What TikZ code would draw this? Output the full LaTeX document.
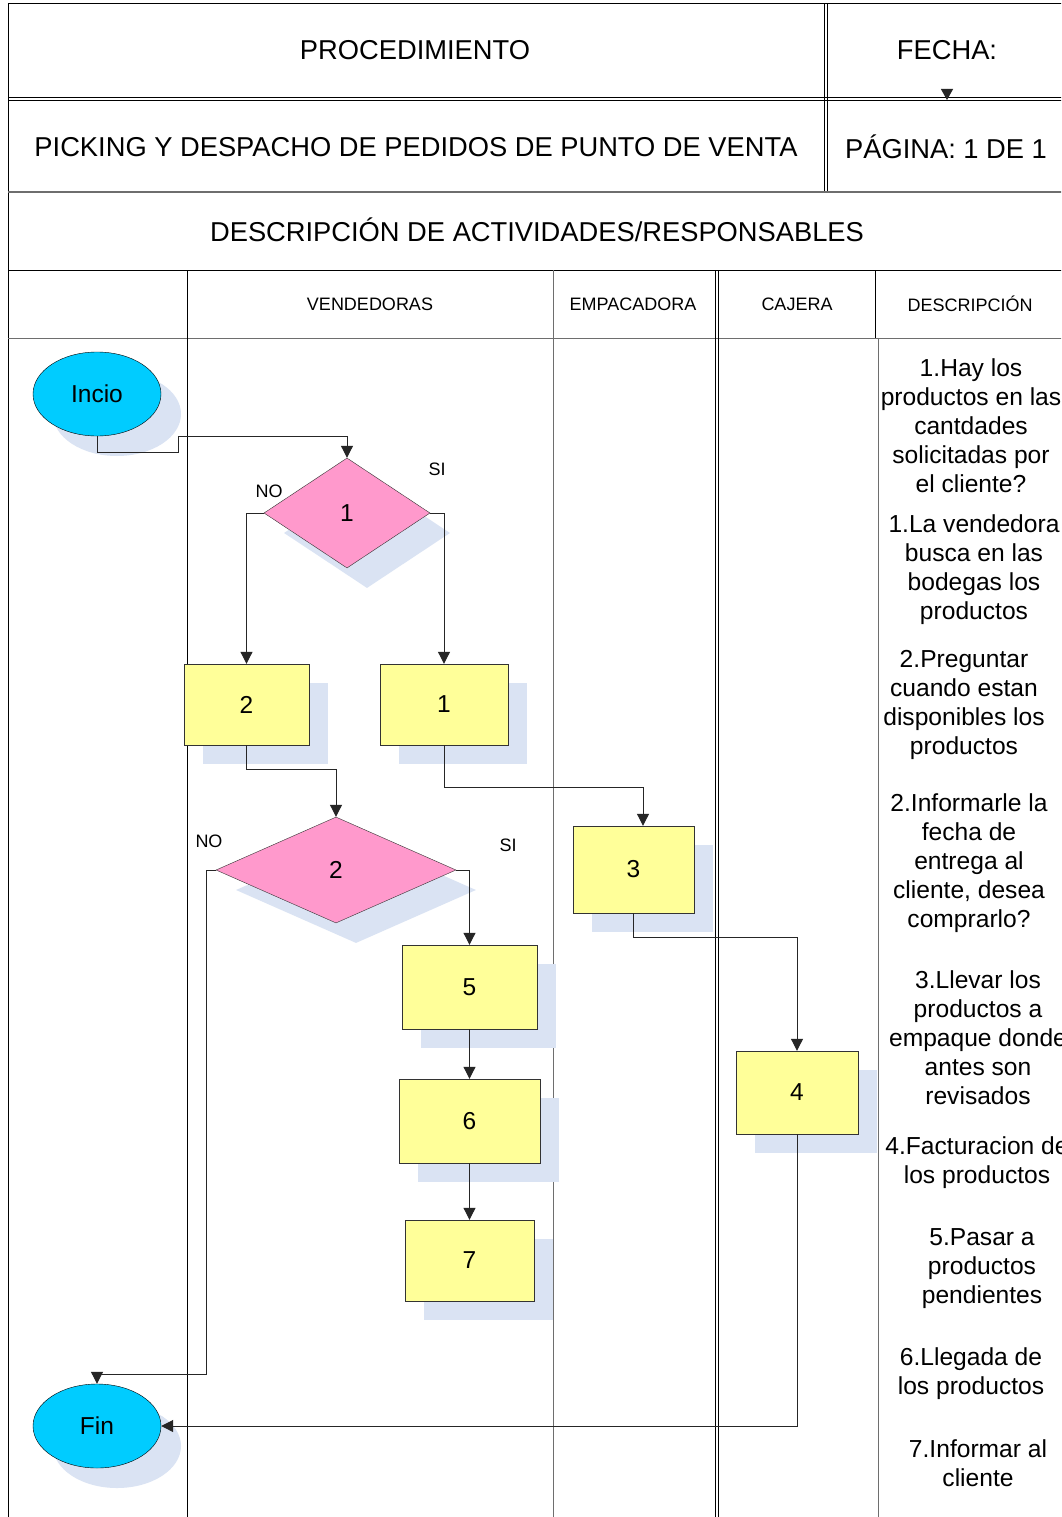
\documentclass[tikz,border=0pt]{standalone}
\usepackage{fontspec}
\setmainfont{Liberation Sans}
\usetikzlibrary{arrows.meta,shapes.geometric,shadows}
\definecolor{shadowc}{RGB}{218,227,243}
\definecolor{cyanf}{RGB}{0,204,255}
\definecolor{pinkf}{RGB}{255,153,204}
\definecolor{yellowf}{RGB}{255,255,153}
\definecolor{lanegray}{RGB}{110,110,110}
\tikzset{
  shd/.style={drop shadow={shadow xshift=20pt,shadow yshift=-20pt,fill=shadowc,opacity=1}},
  term/.style={ellipse,draw=black,fill=cyanf,minimum width=128pt,minimum height=84pt,inner sep=0pt,font=\fontsize{24.5}{28}\selectfont,shd},
  dec/.style={diamond,draw=black!80,fill=pinkf,inner sep=0pt,aspect=1.5,font=\fontsize{24.5}{28}\selectfont,shd},
  proc/.style={rectangle,draw=black!80,fill=yellowf,inner sep=0pt,font=\fontsize{24.5}{28}\selectfont,drop shadow={shadow xshift=19pt,shadow yshift=-19pt,fill=shadowc,opacity=1}},
  arr/.style={draw=black!85,line width=1pt,-{Triangle[width=12pt,length=12pt]}},
  conn/.style={draw=black!85,line width=1pt},
  hdr/.style={font=\fontsize{27.3}{30}\selectfont,inner sep=0pt},
  colh/.style={font=\fontsize{18}{21}\selectfont,inner sep=0pt},
  lbl/.style={font=\fontsize{18}{21}\selectfont,inner sep=0pt},
  desc/.style={font=\fontsize{24.6}{29}\selectfont,align=center,inner sep=0pt},
  frame/.style={draw=black,line width=1pt},
  gframe/.style={draw=lanegray,line width=1pt}
}
\begin{document}
\begin{tikzpicture}[x=1pt,y=-1pt]
\useasboundingbox (0,0) rectangle (1061,1517);
\clip (0,0) rectangle (1061,1517);
\fill[white] (0,0) rectangle (1061,1517);
% header frame
\draw[frame] (8,4) -- (1070,4);
\draw[frame] (8,4) -- (8,1520);
\draw[frame] (824,4) -- (824,192);
\draw[frame] (827,4) -- (827,192);
\draw[frame] (8,97.5) -- (1070,97.5);
\draw[frame] (8,101) -- (1070,101);
\draw[gframe,line width=2pt] (8,192) -- (1070,192);
\draw[frame] (8,270) -- (1070,270);
\draw[gframe] (8,338) -- (1070,338);
% lanes
\draw[frame] (187,270) -- (187,1520);
\draw[gframe] (553,270) -- (553,1520);
\draw[frame] (715,270) -- (715,1520);
\draw[frame] (718,270) -- (718,1520);
\draw[frame] (875,270) -- (875,338);
\draw[gframe] (878,338) -- (878,1520);
% header texts
\node[hdr] (tproc) at (415,50) {PROCEDIMIENTO};
\node[hdr] (tfecha) at (947,50) {FECHA:};
\node[hdr] (ttitle) at (416,147) {PICKING Y DESPACHO DE PEDIDOS DE PUNTO DE VENTA};
\node[hdr] (tpag) at (946,147) {PÁGINA: 1 DE 1};
\node[hdr] (tdesc) at (537,230) {DESCRIPCIÓN DE ACTIVIDADES/RESPONSABLES};
\node[colh] (hv) at (370,304) {VENDEDORAS};
\node[colh] (he) at (633,304) {EMPACADORA};
\node[colh] (hc) at (797,304) {CAJERA};
\node[colh] (hd) at (970,304) {DESCRIPCIÓN};
\coordinate (fa) at (947,89);
\coordinate (fb) at (947,100);
\draw[arr,-{Triangle[width=12pt,length=11pt]}] (fa) -- (fb);
% nodes
\node[term] (inc) at (97,394) {Incio};
\node[term] (fin) at (97,1426) {Fin};
\node[dec,minimum width=166pt,minimum height=110pt] (d1) at (347,513) {1};
\node[dec,minimum width=240pt,minimum height=106pt] (d2) at (336,870) {2};
\node[proc,minimum width=125pt,minimum height=81pt] (b2) at (246.5,704.5) {2};
\node[proc,minimum width=128pt,minimum height=81pt] (b1) at (444,704.5) {1};
\node[proc,minimum width=121pt,minimum height=87pt] (b3) at (633.5,869.5) {3};
\node[proc,minimum width=135pt,minimum height=84pt] (b5) at (469.5,987) {5};
\node[proc,minimum width=141pt,minimum height=84pt] (b6) at (469.5,1121) {6};
\node[proc,minimum width=129pt,minimum height=81pt] (b7) at (469.5,1260.5) {7};
\node[proc,minimum width=122pt,minimum height=83pt] (b4) at (797,1092.5) {4};
% labels
\node[lbl] (no1) at (269,491) {NO};
\node[lbl] (si1) at (437,469) {SI};
\node[lbl] (no2) at (209,841) {NO};
\node[lbl] (si2) at (508,845) {SI};
% connectors
\draw[arr] (inc.south) -- (97,452) -- (178,452) -- (178,436) -| (d1.north);
\draw[arr] (d1.west) -| (b2.north);
\draw[arr] (d1.east) -| (b1.north);
\draw[arr] (b2.south) -- (246.5,769) -| (d2.north);
\draw[arr] (b1.south) -- (444,787) -| ([xshift=9.5pt]b3.north);
\draw[arr] (d2.west) -- (206,870) -- (206,1374) -| (fin.north);
\draw[arr] (d2.east) -| (b5.north);
\draw[arr] (b5.south) -- (b6.north);
\draw[arr] (b6.south) -- (b7.north);
\draw[arr] (b3.south) -- (633.5,937) -| (b4.north);
\draw[arr] (b4.south) |- (fin.east);
% descriptions
\node[desc] (t1) at (971,426) {1.Hay los\\productos en las\\cantdades\\solicitadas por\\el cliente?};
\node[desc] (t2) at (974,570) {1.La vendedora\\busca en las\\bodegas los\\productos};
\node[desc] (t3) at (964,705) {2.Preguntar\\cuando estan\\disponibles los\\productos};
\node[desc] (t4) at (969,863) {2.Informarle la\\fecha de\\entrega al\\cliente, desea\\comprarlo?};
\node[desc] (t5) at (978,1038) {3.Llevar los\\productos a\\empaque donde\\antes son\\revisados};
\node[desc] (t6) at (977,1163) {4.Facturacion de\\los productos};
\node[desc] (t7) at (982,1269) {5.Pasar a\\productos\\pendientes};
\node[desc] (t8) at (971,1374) {6.Llegada de\\los productos};
\node[desc] (t9) at (978,1463) {7.Informar al\\cliente};
\end{tikzpicture}
\end{document}
